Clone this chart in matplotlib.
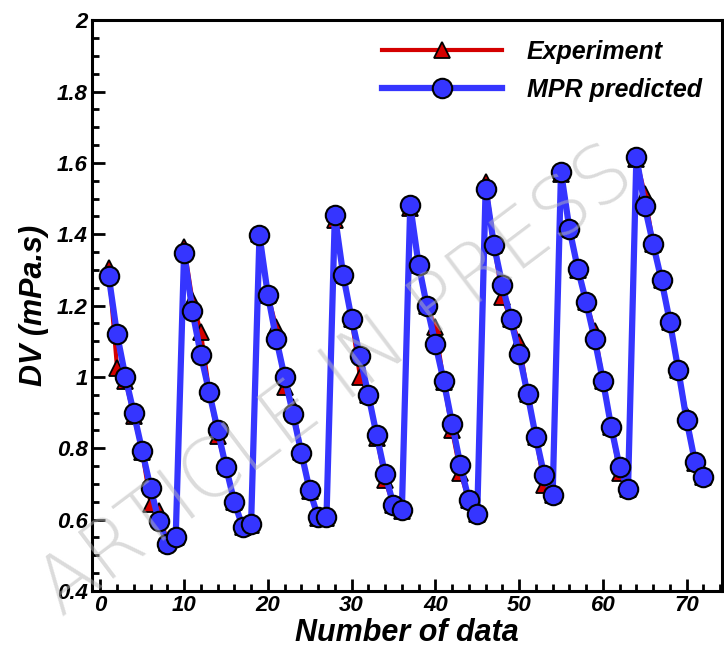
import matplotlib.pyplot as plt
from matplotlib.ticker import MultipleLocator, FuncFormatter

plt.rcParams['font.family'] = ['Liberation Sans', 'DejaVu Sans']

# sample index and viscosity values (mPa.s)
n_data = list(range(1, 73))

dv_experiment = [
    1.305, 1.025, 0.990, 0.890, 0.790, 0.645, 0.625, 0.535, 0.550,
    1.365, 1.215, 1.125, 0.960, 0.835, 0.750, 0.650, 0.580, 0.585,
    1.400, 1.230, 1.140, 0.972, 0.915, 0.790, 0.680, 0.605, 0.605,
    1.440, 1.285, 1.163, 1.000, 0.950, 0.830, 0.710, 0.640, 0.625,
    1.475, 1.315, 1.198, 1.140, 0.985, 0.850, 0.730, 0.654, 0.615,
    1.547, 1.369, 1.224, 1.163, 1.098, 0.953, 0.831, 0.696, 0.668,
    1.570, 1.416, 1.300, 1.210, 1.130, 0.990, 0.859, 0.730, 0.686,
    1.610, 1.514, 1.372, 1.271, 1.154, 1.020, 0.890, 0.760, 0.719,
]

dv_mpr = [
    1.283, 1.119, 1.000, 0.898, 0.793, 0.688, 0.595, 0.532, 0.551,
    1.348, 1.184, 1.062, 0.957, 0.852, 0.747, 0.649, 0.579, 0.588,
    1.397, 1.231, 1.107, 1.000, 0.897, 0.787, 0.682, 0.607, 0.607,
    1.453, 1.285, 1.163, 1.058, 0.950, 0.836, 0.727, 0.642, 0.626,
    1.481, 1.315, 1.198, 1.093, 0.988, 0.869, 0.752, 0.654, 0.616,
    1.528, 1.369, 1.257, 1.163, 1.065, 0.953, 0.831, 0.724, 0.668,
    1.575, 1.416, 1.304, 1.210, 1.107, 0.990, 0.859, 0.747, 0.686,
    1.617, 1.478, 1.372, 1.271, 1.154, 1.020, 0.878, 0.761, 0.719,
]

fig = plt.figure(figsize=(7.24, 6.53), dpi=100)
ax = fig.add_axes([0.127, 0.095, 0.870, 0.874])

ax.plot(n_data, dv_experiment, color='#d40000', lw=3, marker='^', ms=12,
        mfc='#d40000', mec='black', mew=1.3, label='Experiment')
ax.plot(n_data, dv_mpr, color='#3535ff', lw=4.5, marker='o', ms=14,
        mfc='#3535ff', mec='black', mew=1.5, label='MPR predicted')

ax.set_xlim(-1, 74.2)
ax.set_ylim(0.4, 2.0)

ax.xaxis.set_major_locator(MultipleLocator(10))
ax.xaxis.set_minor_locator(MultipleLocator(2))
ax.yaxis.set_major_locator(MultipleLocator(0.2))
ax.yaxis.set_minor_locator(MultipleLocator(0.05))
ax.yaxis.set_major_formatter(FuncFormatter(lambda v, p: f'{v:g}'))

ax.tick_params(which='both', direction='in', top=False, right=False, width=2)
ax.tick_params(which='major', length=9, labelsize=16, pad=3)
ax.tick_params(which='minor', length=5)
for lab in ax.get_xticklabels() + ax.get_yticklabels():
    lab.set_fontweight('bold')
    lab.set_fontstyle('italic')

for sp in ax.spines.values():
    sp.set_linewidth(2.2)

ax.set_xlabel('Number of data', fontsize=22, fontweight='bold', style='italic', labelpad=1)
ax.set_ylabel('DV (mPa.s)', fontsize=22, fontweight='bold', style='italic', labelpad=6)

leg = ax.legend(loc='upper right', frameon=False, fontsize=18, handlelength=4.8,
                borderaxespad=0.4, labelspacing=0.55, handletextpad=1.0)
for t in leg.get_texts():
    t.set_fontweight('bold')
    t.set_fontstyle('italic')

# watermark
fig.text(0.465, 0.415, 'ARTICLE IN PRESS', fontsize=58, color='#b8b8b8', alpha=0.5,
         rotation=37, ha='center', va='center', family='DejaVu Sans',
         fontweight='light', zorder=10)

fig.savefig('out.png', dpi=100)
